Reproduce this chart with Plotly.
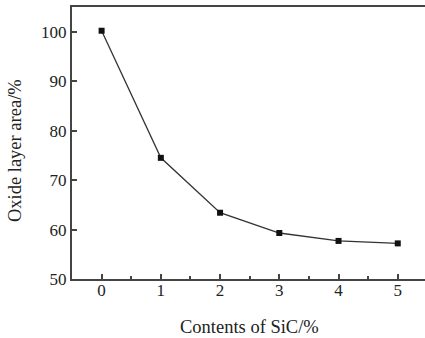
import plotly.graph_objects as go

sic = [0, 1, 2, 3, 4, 5]
area = [100.2, 74.5, 63.4, 59.3, 57.7, 57.2]
x_ticks = [0, 1, 2, 3, 4, 5]
y_ticks = [50, 60, 70, 80, 90, 100]

fig = go.Figure()
fig.add_trace(go.Scatter(
    x=sic, y=area, mode="lines+markers",
    line=dict(color="#333333", width=1.3),
    marker=dict(symbol="square", size=6, color="#111111"),
    showlegend=False,
))

fam = "Liberation Serif, Times New Roman, serif"
tick_font = dict(family=fam, size=17, color="#222222")
title_font = dict(family=fam, size=18.5, color="#222222")
fig.update_layout(
    width=425, height=338,
    margin=dict(l=72, r=0, t=7, b=59),
    paper_bgcolor="white", plot_bgcolor="white",
    font=tick_font,
)
fig.update_xaxes(
    range=[-0.5, 5.46], tickvals=x_ticks, ticktext=[str(v) for v in x_ticks],
    showline=True, linecolor="#444444", linewidth=2, mirror=True,
    ticks="inside", ticklen=5, tickwidth=1.5, tickcolor="#444444",
    minor=dict(tickvals=[0.5, 1.5, 2.5, 3.5, 4.5], ticks="inside", ticklen=3, tickcolor="#444444"),
    showgrid=False, zeroline=False, tickfont=tick_font,
)
try:
    fig.update_xaxes(ticklabelstandoff=-5)
except Exception:
    pass
fig.update_yaxes(
    range=[50, 105], tickvals=y_ticks, ticktext=[str(v) for v in y_ticks],
    showline=True, linecolor="#444444", linewidth=2, mirror=False,
    ticks="inside", ticklen=5, tickwidth=1.5, tickcolor="#444444",
    showgrid=False, zeroline=False, tickfont=tick_font,
)
fig.add_annotation(text="Contents of SiC/%", xref="paper", yref="paper",
                   x=0.503, y=-0.176, xanchor="center", yanchor="middle",
                   showarrow=False, font=title_font)
fig.add_annotation(text="Oxide layer area/%", xref="paper", yref="paper",
                   x=-0.1615, y=0.474, xanchor="center", yanchor="middle",
                   textangle=-90, showarrow=False, font=title_font)
fig.write_html("out.html")
